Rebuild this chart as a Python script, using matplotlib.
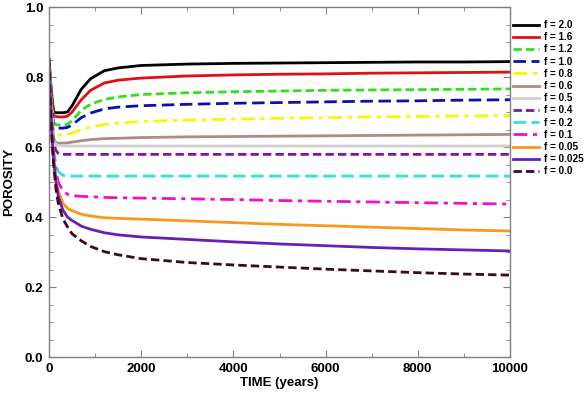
import matplotlib
matplotlib.use("Agg")
import matplotlib.pyplot as plt
from matplotlib.ticker import MultipleLocator, FormatStrFormatter

plt.rcParams["font.family"] = ["Liberation Sans", "DejaVu Sans"]

time = [0, 50, 100, 150, 200, 300, 400, 500, 700, 900, 1200, 1500, 2000,
        3000, 4000, 5000, 6000, 7000, 8000, 9000, 10000]

labels = ["f = 2.0", "f = 1.6", "f = 1.2", "f = 1.0", "f = 0.8", "f = 0.6",
          "f = 0.5", "f = 0.4", "f = 0.2", "f = 0.1", "f = 0.05", "f = 0.025", "f = 0.0"]

f_2_0 = [0.85, 0.76, 0.70, 0.698, 0.698, 0.698, 0.700, 0.718, 0.765, 0.795, 0.818, 0.826, 0.833,
         0.837, 0.839, 0.840, 0.841, 0.842, 0.843, 0.843, 0.844]
f_1_6 = [0.85, 0.75, 0.69, 0.687, 0.686, 0.686, 0.688, 0.700, 0.735, 0.762, 0.783, 0.791, 0.797,
         0.803, 0.806, 0.808, 0.809, 0.811, 0.812, 0.813, 0.814]
f_1_2 = [0.85, 0.74, 0.67, 0.664, 0.663, 0.663, 0.665, 0.675, 0.705, 0.722, 0.736, 0.743, 0.750,
         0.755, 0.758, 0.760, 0.762, 0.763, 0.764, 0.765, 0.766]
f_1_0 = [0.85, 0.73, 0.66, 0.655, 0.654, 0.654, 0.656, 0.663, 0.684, 0.697, 0.709, 0.714, 0.718,
         0.722, 0.725, 0.727, 0.729, 0.731, 0.732, 0.734, 0.735]
f_0_8 = [0.85, 0.72, 0.645, 0.636, 0.634, 0.634, 0.636, 0.640, 0.650, 0.657, 0.664, 0.668, 0.673,
         0.677, 0.680, 0.682, 0.684, 0.686, 0.687, 0.689, 0.690]
f_0_6 = [0.85, 0.71, 0.625, 0.613, 0.611, 0.611, 0.612, 0.614, 0.618, 0.621, 0.624, 0.625, 0.627,
         0.629, 0.630, 0.631, 0.632, 0.633, 0.634, 0.635, 0.636]
f_0_5 = [0.85, 0.70, 0.62, 0.607, 0.604, 0.603, 0.603, 0.603, 0.603, 0.603, 0.603, 0.603, 0.603,
         0.603, 0.603, 0.603, 0.603, 0.603, 0.603, 0.603, 0.603]
f_0_4 = [0.85, 0.69, 0.61, 0.59, 0.582, 0.579, 0.579, 0.579, 0.579, 0.579, 0.579, 0.579, 0.579,
         0.579, 0.579, 0.579, 0.579, 0.579, 0.579, 0.579, 0.579]
f_0_2 = [0.85, 0.68, 0.59, 0.55, 0.53, 0.519, 0.517, 0.517, 0.517, 0.517, 0.517, 0.517, 0.517,
         0.517, 0.517, 0.517, 0.517, 0.517, 0.517, 0.517, 0.517]
f_0_1 = [0.85, 0.67, 0.58, 0.53, 0.50, 0.475, 0.465, 0.461, 0.459, 0.458, 0.456, 0.455, 0.454,
         0.452, 0.450, 0.447, 0.445, 0.443, 0.441, 0.439, 0.437]
f_0_05 = [0.85, 0.66, 0.57, 0.51, 0.475, 0.44, 0.425, 0.418, 0.408, 0.403, 0.398, 0.396, 0.394,
          0.389, 0.384, 0.379, 0.375, 0.371, 0.367, 0.363, 0.360]
f_0_025 = [0.85, 0.66, 0.56, 0.50, 0.46, 0.42, 0.40, 0.39, 0.374, 0.365, 0.355, 0.349, 0.343,
           0.336, 0.329, 0.323, 0.318, 0.313, 0.309, 0.306, 0.303]
f_0_0 = [0.85, 0.65, 0.55, 0.48, 0.44, 0.395, 0.372, 0.352, 0.332, 0.316, 0.301, 0.292, 0.281,
         0.270, 0.263, 0.257, 0.251, 0.246, 0.241, 0.237, 0.234]

series = [f_2_0, f_1_6, f_1_2, f_1_0, f_0_8, f_0_6, f_0_5, f_0_4, f_0_2, f_0_1, f_0_05, f_0_025, f_0_0]
colors = ["#000000", "#e01010", "#33dd22", "#0a10b0", "#f8f800", "#b08a88", "#d0d0d0",
          "#7a14b0", "#33e0e0", "#f010c8", "#f59a1c", "#6a1eb8", "#3a0a22"]
styles = ["-", "-", (0, (3, 1.5)), (0, (4.5, 2)), (0, (5, 2, 1.5, 2)), "-", "-",
          (0, (3, 1.5)), (0, (4.5, 2)), (0, (5, 2, 1.5, 2)), "-", "-", (0, (3, 1.5))]

fig = plt.figure(figsize=(5.85, 3.95), dpi=100)
ax = fig.add_axes([0.0838, 0.0962, 0.788, 0.886])

for y, c, ls, lab in zip(series, colors, styles, labels):
    ax.plot(time, y, color=c, linestyle=ls, linewidth=2.0, label=lab)

ax.set_xlim(0, 10000)
ax.set_ylim(0, 1.0)
ax.xaxis.set_major_locator(MultipleLocator(2000))
ax.xaxis.set_minor_locator(MultipleLocator(1000))
ax.yaxis.set_major_locator(MultipleLocator(0.2))
ax.yaxis.set_minor_locator(MultipleLocator(0.05))
ax.yaxis.set_major_formatter(FormatStrFormatter("%.1f"))
ax.tick_params(which="both", direction="in", top=True, right=True, color="#808080")
ax.tick_params(which="major", length=5, labelsize=9.5, pad=4)
ax.tick_params(which="minor", length=3)
for lbl in ax.get_xticklabels() + ax.get_yticklabels():
    lbl.set_fontweight("bold")
for s in ax.spines.values():
    s.set_color("#808080")
    s.set_linewidth(1.0)

ax.set_xlabel("TIME (years)", fontsize=9.5, fontweight="bold", labelpad=2)
ax.set_ylabel("POROSITY", fontsize=9.5, fontweight="bold", labelpad=7)

leg = fig.legend(loc="upper left", bbox_to_anchor=(513 / 585, 1 - 20 / 395), frameon=False,
                 prop={"weight": "bold", "size": 7.2}, handlelength=2.6,
                 labelspacing=0.22, handletextpad=0.5, borderpad=0, borderaxespad=0)

fig.savefig("out.png", dpi=100)
